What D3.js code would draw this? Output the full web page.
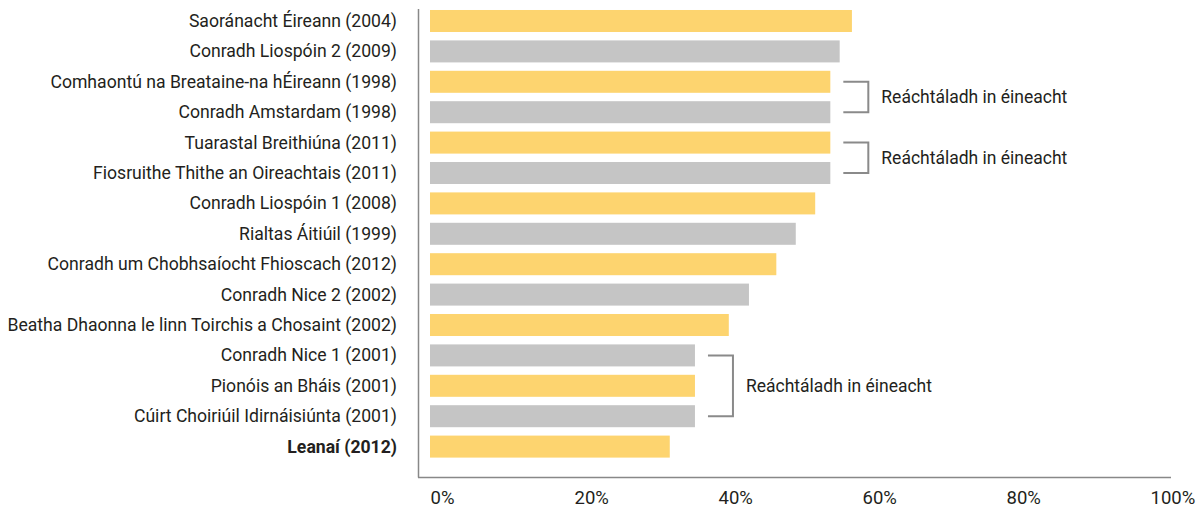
<!DOCTYPE html>
<html>
<head>
<meta charset="utf-8">
<script src="https://cdn.jsdelivr.net/npm/d3@7"></script>
<style>
  body { margin: 0; background: #fff; }
  text { font-family: Roboto, "Liberation Sans", sans-serif; fill: #231f20; }
</style>
</head>
<body>
<div id="vis-container"></div>
<script>
// referendum names, top to bottom
const categories = [
  "Saoránacht Éireann (2004)",
  "Conradh Liospóin 2 (2009)",
  "Comhaontú na Breataine-na hÉireann (1998)",
  "Conradh Amstardam (1998)",
  "Tuarastal Breithiúna (2011)",
  "Fiosruithe Thithe an Oireachtais (2011)",
  "Conradh Liospóin 1 (2008)",
  "Rialtas Áitiúil (1999)",
  "Conradh um Chobhsaíocht Fhioscach (2012)",
  "Conradh Nice 2 (2002)",
  "Beatha Dhaonna le linn Toirchis a Chosaint (2002)",
  "Conradh Nice 1 (2001)",
  "Pionóis an Bháis (2001)",
  "Cúirt Choiriúil Idirnáisiúnta (2001)",
  "Leanaí (2012)"
];

// bar values (%)
const values = [58.6, 56.9, 55.6, 55.6, 55.6, 55.6, 53.5, 50.8, 48.1, 44.3, 41.5, 36.8, 36.8, 36.8, 33.3];

// the highlighted row
const boldCategory = "Leanaí (2012)";

// referendums held on the same day (first and last row of each group)
const groupStart = [2, 4, 11];
const groupEnd = [3, 5, 13];
const groupLabel = "Reáchtáladh in éineacht";

const xTickValues = [0, 20, 40, 60, 80, 100];

const width = 1204;
const height = 510;

const yellow = "#fdd46f";
const grey = "#c5c5c5";

const xScale = d3.scaleLinear().domain([0, 100]).range([430, 1150]);
const yScale = d3.scaleBand().domain(categories)
      .range([5.8, 5.8 + 15 * 30.4])
      .paddingInner(0.276)
      .paddingOuter(0.138);

const svg = d3.select('#vis-container').append('svg')
      .attr('width', width)
      .attr('height', height);

// bars
svg.append('g').selectAll('rect')
  .data(categories)
  .join('rect')
    .attr('x', xScale(0))
    .attr('y', d => yScale(d))
    .attr('width', (d, i) => xScale(values[i]) - xScale(0))
    .attr('height', yScale.bandwidth())
    .attr('fill', (d, i) => i % 2 === 0 ? yellow : grey);

// category labels
const yAxis = d3.axisLeft(yScale).tickSize(0).tickPadding(0);
const yAxisG = svg.append('g')
      .attr('transform', 'translate(397,0)')
      .call(yAxis);
yAxisG.select('.domain').remove();
const yLabels = yAxisG.selectAll('text')
  .attr('font-family', 'Roboto, sans-serif')
  .attr('font-size', 18.5)
  .attr('fill', '#231f20')
  .attr('font-weight', d => d === boldCategory ? 'bold' : 'normal');

// the source uses a condensed face: squeeze so the longest label spans ~390px
const longest = d3.max(yLabels.nodes(), n => n.getComputedTextLength());
const squeeze = Math.min(1, 390 / longest);
yLabels.attr('transform', `scale(${squeeze},1)`);

// axis lines
svg.append('line')
  .attr('x1', 418.5).attr('x2', 418.5)
  .attr('y1', 9).attr('y2', 477.5)
  .attr('stroke', '#888').attr('stroke-width', 1.5);
svg.append('line')
  .attr('x1', 418).attr('x2', 1171)
  .attr('y1', 477.5).attr('y2', 477.5)
  .attr('stroke', '#888').attr('stroke-width', 1.5);

// x tick labels, left aligned on the tick
const xAxis = d3.axisBottom(xScale)
      .tickValues(xTickValues)
      .tickSize(0)
      .tickPadding(0)
      .tickFormat(d => d + '%');
const xAxisG = svg.append('g')
      .attr('transform', 'translate(0,491)')
      .call(xAxis);
xAxisG.select('.domain').remove();
xAxisG.selectAll('text')
  .attr('font-family', 'Roboto, sans-serif')
  .attr('font-size', 18.5)
  .attr('fill', '#231f20')
  .attr('text-anchor', 'start');

// brackets for the same-day groups
groupStart.forEach(function (s, k) {
  const e = groupEnd[k];
  const maxVal = d3.max(values.slice(s, e + 1));
  const x0 = xScale(maxVal) + 13;
  const x1 = x0 + 25;
  const y0 = yScale(categories[s]) + yScale.bandwidth() / 2;
  const y1 = yScale(categories[e]) + yScale.bandwidth() / 2;

  svg.append('path')
    .attr('d', `M${x0},${y0}H${x1}V${y1}H${x0}`)
    .attr('fill', 'none')
    .attr('stroke', '#8a8a8a')
    .attr('stroke-width', 2);

  svg.append('text')
    .attr('x', x1 + 13)
    .attr('y', (y0 + y1) / 2)
    .attr('dy', '0.35em')
    .attr('font-size', 17.5)
    .text(groupLabel);
});
</script>
</body>
</html>
